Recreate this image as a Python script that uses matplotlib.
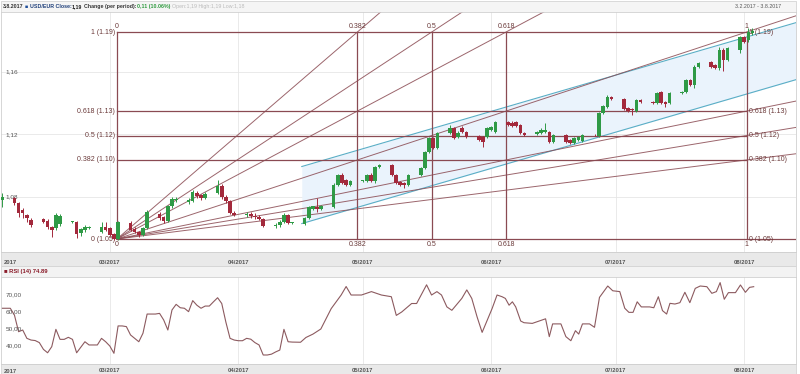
import matplotlib.pyplot as plt
import numpy as np
import pandas as pd
from matplotlib.patches import Rectangle

plt.rcParams['font.family'] = ['Liberation Sans', 'DejaVu Sans']

# ---- data: USD/EUR daily candles, 3.2.2017 - 3.8.2017 (weekdays) ----
start = pd.Timestamp('2017-02-03')
dates = pd.bdate_range('2017-02-03', '2017-08-03')

opens = [1.0781,
         1.0794, 1.0762, 1.0717, 1.0685, 1.0653,
         1.0659, 1.0646, 1.0608, 1.0602, 1.0627,
         1.0640, 1.0640, 1.0570, 1.0589, 1.0602,
         1.0576, 1.0608, 1.0602, 1.0563, 1.0531,
         1.0634, 1.0595, 1.0576, 1.0557, 1.0602,
         1.0691, 1.0672, 1.0646, 1.0742, 1.0781,
         1.0768, 1.0774, 1.0826, 1.0813, 1.0794,
         1.0826, 1.0870, 1.0800, 1.0774, 1.0698,
         1.0685, 1.0691, 1.0678, 1.0672, 1.0659,
         1.0614, 1.0621, 1.0640, 1.0685, 1.0634,
         1.0627, 1.0666, 1.0723, 1.0736, 1.0723,
         1.0736, 1.0877, 1.0941, 1.0909, 1.0877,
         1.0902, 1.0902, 1.0941, 1.0902, 1.0992,
         1.1005, 1.0941, 1.0896, 1.0890, 1.0877,
         1.0941, 1.0986, 1.1088, 1.1178, 1.1114,
         1.1210, 1.1242, 1.1184, 1.1242, 1.1216,
         1.1190, 1.1184, 1.1184, 1.1229, 1.1216,
         1.1280, 1.1274, 1.1280, 1.1261, 1.1210,
         1.1203, 1.1210, 1.1216, 1.1216, 1.1152,
         1.1197, 1.1165, 1.1146, 1.1165, 1.1158,
         1.1197, 1.1190, 1.1338, 1.1376, 1.1440,
         1.1427, 1.1370, 1.1363, 1.1350, 1.1421,
         1.1408, 1.1402, 1.1472, 1.1408, 1.1402,
         1.1466, 1.1472, 1.1549, 1.1517, 1.1632,
         1.1664, 1.1645, 1.1626, 1.1741, 1.1677,
         1.1741, 1.1824, 1.1805, 1.1850]
highs = [1.0826,
         1.0800, 1.0768, 1.0730, 1.0691, 1.0666,
         1.0666, 1.0659, 1.0614, 1.0698, 1.0691,
         1.0646, 1.0646, 1.0602, 1.0621, 1.0614,
         1.0640, 1.0640, 1.0608, 1.0570, 1.0646,
         1.0646, 1.0608, 1.0582, 1.0608, 1.0717,
         1.0704, 1.0678, 1.0749, 1.0800, 1.0800,
         1.0794, 1.0845, 1.0838, 1.0819, 1.0832,
         1.0909, 1.0883, 1.0813, 1.0781, 1.0711,
         1.0704, 1.0704, 1.0698, 1.0685, 1.0666,
         1.0634, 1.0653, 1.0698, 1.0691, 1.0640,
         1.0672, 1.0742, 1.0742, 1.0794, 1.0749,
         1.0890, 1.0947, 1.0954, 1.0915, 1.0909,
         1.0909, 1.0947, 1.0954, 1.0998, 1.1011,
         1.1011, 1.0947, 1.0902, 1.0896, 1.0947,
         1.0992, 1.1094, 1.1184, 1.1184, 1.1216,
         1.1261, 1.1248, 1.1222, 1.1254, 1.1222,
         1.1197, 1.1190, 1.1248, 1.1254, 1.1286,
         1.1286, 1.1286, 1.1286, 1.1267, 1.1216,
         1.1222, 1.1242, 1.1274, 1.1222, 1.1203,
         1.1203, 1.1171, 1.1184, 1.1190, 1.1203,
         1.1203, 1.1344, 1.1389, 1.1453, 1.1446,
         1.1434, 1.1376, 1.1370, 1.1427, 1.1427,
         1.1414, 1.1472, 1.1478, 1.1414, 1.1472,
         1.1478, 1.1555, 1.1555, 1.1645, 1.1664,
         1.1670, 1.1651, 1.1760, 1.1754, 1.1760,
         1.1831, 1.1831, 1.1882, 1.1882]
lows = [1.0736,
        1.0749, 1.0672, 1.0666, 1.0640, 1.0608,
        1.0634, 1.0595, 1.0544, 1.0589, 1.0614,
        1.0634, 1.0538, 1.0550, 1.0576, 1.0595,
        1.0570, 1.0582, 1.0550, 1.0525, 1.0525,
        1.0582, 1.0570, 1.0544, 1.0550, 1.0595,
        1.0653, 1.0634, 1.0640, 1.0730, 1.0768,
        1.0755, 1.0768, 1.0794, 1.0781, 1.0787,
        1.0819, 1.0787, 1.0762, 1.0691, 1.0678,
        1.0672, 1.0666, 1.0659, 1.0653, 1.0608,
        1.0602, 1.0608, 1.0634, 1.0627, 1.0627,
        1.0621, 1.0659, 1.0717, 1.0704, 1.0717,
        1.0730, 1.0870, 1.0883, 1.0870, 1.0870,
        1.0896, 1.0896, 1.0896, 1.0890, 1.0986,
        1.0934, 1.0883, 1.0870, 1.0858, 1.0870,
        1.0934, 1.0979, 1.1082, 1.1107, 1.1107,
        1.1203, 1.1171, 1.1178, 1.1210, 1.1178,
        1.1158, 1.1120, 1.1178, 1.1222, 1.1210,
        1.1254, 1.1248, 1.1248, 1.1203, 1.1190,
        1.1197, 1.1203, 1.1210, 1.1146, 1.1146,
        1.1146, 1.1139, 1.1139, 1.1158, 1.1152,
        1.1190, 1.1184, 1.1331, 1.1370, 1.1421,
        1.1357, 1.1344, 1.1325, 1.1344, 1.1402,
        1.1395, 1.1395, 1.1395, 1.1376, 1.1395,
        1.1459, 1.1466, 1.1510, 1.1498, 1.1626,
        1.1626, 1.1619, 1.1613, 1.1606, 1.1670,
        1.1722, 1.1786, 1.1792, 1.1837]
closes = [1.0800,
          1.0762, 1.0698, 1.0698, 1.0666, 1.0621,
          1.0640, 1.0608, 1.0589, 1.0685, 1.0678,
          1.0640, 1.0563, 1.0595, 1.0608, 1.0608,
          1.0608, 1.0589, 1.0557, 1.0531, 1.0640,
          1.0589, 1.0576, 1.0557, 1.0602, 1.0704,
          1.0666, 1.0646, 1.0742, 1.0787, 1.0787,
          1.0781, 1.0832, 1.0806, 1.0794, 1.0819,
          1.0870, 1.0800, 1.0774, 1.0698, 1.0685,
          1.0691, 1.0678, 1.0672, 1.0659, 1.0614,
          1.0621, 1.0640, 1.0685, 1.0634, 1.0634,
          1.0666, 1.0736, 1.0742, 1.0723, 1.0742,
          1.0877, 1.0941, 1.0890, 1.0877, 1.0902,
          1.0902, 1.0941, 1.0902, 1.0992, 1.1005,
          1.0941, 1.0890, 1.0877, 1.0877, 1.0941,
          1.0986, 1.1088, 1.1178, 1.1114, 1.1210,
          1.1242, 1.1178, 1.1210, 1.1216, 1.1184,
          1.1165, 1.1152, 1.1242, 1.1248, 1.1280,
          1.1261, 1.1254, 1.1254, 1.1210, 1.1197,
          1.1216, 1.1229, 1.1229, 1.1152, 1.1197,
          1.1152, 1.1146, 1.1178, 1.1184, 1.1197,
          1.1194, 1.1338, 1.1382, 1.1440, 1.1427,
          1.1363, 1.1350, 1.1357, 1.1421, 1.1408,
          1.1402, 1.1466, 1.1402, 1.1398, 1.1466,
          1.1472, 1.1549, 1.1517, 1.1632, 1.1658,
          1.1632, 1.1626, 1.1741, 1.1677, 1.1754,
          1.1824, 1.1792, 1.1856, 1.1862]

# RSI(14): (days since 3.2.2017, value)
rsi_day = [0, 2, 3, 4, 5, 6, 7, 8, 9, 10, 11, 12, 13, 14, 15, 16, 17, 18,
           20, 21, 22, 23, 24, 25, 26, 27, 28, 29, 30, 31, 33, 34, 35, 36,
           37, 38, 39, 40, 41, 42, 43, 44, 45, 46, 47, 48, 49, 50, 51, 52,
           53, 54, 55, 56, 57, 58, 59, 60, 61, 62, 63, 64, 65, 66, 67, 68,
           69, 70, 72,
           73.3, 75, 76.9, 79.4, 81.8, 83, 84.2, 86.7, 89.1, 91.5, 93.9,
           95.1, 96.4, 98.8, 100, 102.4, 103.6, 104.9, 106, 107.3, 108.5,
           110.9, 112.1, 113.3, 114.6, 115.8, 117, 118.2, 119.4,
           120.6, 121.4, 122.3, 123.1, 123.9, 125.1, 125.9, 127.9, 129.1,
           130.7, 131.1, 132, 132.8, 134.8, 136, 137.2, 138.3, 139.1, 140,
           141.7, 142.9, 144.1, 146.1, 147.3, 149, 150.2, 151.2, 152.2,
           153.2, 154.2, 156.2, 157.2, 158.3, 159.3, 160.3, 161.1, 162.3,
           163.5, 164.7, 165.9, 167.2, 168.4, 170, 171.2, 172.3, 173.2,
           174.2, 175.2, 176.9, 178.1, 179.3, 180.3, 181.3]
rsi_val = [62.2, 62.2, 58.2, 48.4, 49.4, 44.5, 43.5, 43.2, 42, 38, 36, 39.6,
           49.8, 43.9, 43.9, 45.1, 43.9, 36, 42.5, 40.6, 40.6, 40.6, 44.5,
           42.5, 40, 35.7, 51.8, 51.8, 51.4, 46.5, 42.5, 47.5, 58.8, 58.8,
           58.8, 59.2, 55.3, 49.4, 61.2, 64.5, 62.5, 62.2, 60.2, 66.7, 64,
           62.2, 63.5, 63.5, 66, 68.4, 65, 54, 44.5, 43.5, 43.1, 43.1, 44.5,
           44, 42, 40.6, 34.7, 34.7, 35.2, 36.5, 37.6, 49.8, 42.5, 42.3, 42.2,
           45, 47, 50, 62, 70, 75, 70, 70, 72, 70, 69,
           58, 60, 65, 65, 76, 70, 72, 70, 63, 61,
           68, 73, 68, 57, 48, 55, 62, 70,
           69, 68, 64, 66, 63, 54.7, 53.7, 53.3, 54.3,
           55.7, 56, 45.5, 53, 53, 45.5, 43.1, 49, 47, 53,
           53, 51, 68.6, 75.3, 72.5, 72, 62.2, 59.8, 59.8,
           66, 63, 63, 62.5, 69, 60.8, 58.8, 65.1, 64.7,
           65.5, 71.6, 65.5, 73.9, 75.3, 74.9, 71, 72, 77.3,
           67.5, 71.4, 71.4, 75.9, 71.6, 74.5, 74.9]

# Fibonacci fan / time zones / levels (anchors)
fib_x0, fib_x1 = 27.7, 179.6          # days since 3.2.2017
fib_p0, fib_p1 = 1.0531, 1.1856
fib_ratios = [0, 0.382, 0.5, 0.618, 1]
fib_price_labels = ['0 (1.05)', '0.382 (1.10)', '0.5 (1.12)', '0.618 (1.13)', '1 (1.19)']
fib_time_labels = ['0', '0.382', '0.5', '0.618', '1']

# trend channel (two parallel lines)
chan_x = [72.3, 191.5]
chan_upper = [1.0995, 1.1916]
chan_lower = [1.0630, 1.1551]

month_ticks = ['2017-03-01', '2017-04-01', '2017-05-01', '2017-06-01', '2017-07-01', '2017-08-01']
month_labels = ['03/2017', '04/2017', '05/2017', '06/2017', '07/2017', '08/2017']
price_ticks = [1.08, 1.12, 1.16]
rsi_ticks = [40, 50, 60, 70]

# ---- figure ----
W, H = 800, 374
fig = plt.figure(figsize=(W / 100, H / 100), dpi=100)
fig.patch.set_facecolor('white')


def box(x, y, w, h):
    # pixel box (top-left origin) -> figure fraction rect
    return [x / W, 1 - (y + h) / H, w / W, h / H]


def band(x, y, w, h, color):
    r = box(x, y, w, h)
    fig.add_artist(Rectangle((r[0], r[1]), r[2], r[3], transform=fig.transFigure,
                             facecolor=color, edgecolor='#d4d4d4', lw=0.6, zorder=0))


band(1, 1, 795, 11, '#f5f5f5')     # header
band(1, 252, 795, 14, '#e9e9e9')   # main x axis
band(1, 266, 795, 11, '#f3f3f3')   # rsi header
band(1, 364, 795, 10, '#e9e9e9')   # rsi x axis

xmin, xmax = -0.24, 191.5
x = (dates - start).days.values.astype(float)
o = np.array(opens); h = np.array(highs); l = np.array(lows); c = np.array(closes)

green, red = '#2f9a46', '#a3293c'
fib_col = '#8a4a52'
fs = 4.2

ax = fig.add_axes(box(1, 12, 795, 240))
ax.set_xlim(xmin, xmax)
ax.set_ylim(1.0448, 1.1984)

month_x = [(pd.Timestamp(m) - start).days for m in month_ticks]
ax.set_xticks(month_x)
ax.set_xticklabels(month_labels, fontsize=fs, color='#555555', fontweight='bold')
ax.tick_params(axis='x', length=0, pad=6)
ax.set_yticks(price_ticks)
ax.set_yticklabels([])
ax.tick_params(axis='y', length=0)
ax.grid(True, color='#e6e6e6', lw=0.6)
ax.set_axisbelow(True)
for s in ax.spines.values():
    s.set_color('#d0d0d0'); s.set_linewidth(0.6)
for t in price_ticks:
    ax.text(0.006, t, f'{t:.2f}'.replace('.', ','), transform=ax.get_yaxis_transform(),
            fontsize=4.6, color='#555555', va='center', ha='left')
ax.text(0.004, -0.045, '2017', transform=ax.transAxes, fontsize=fs, color='#555555',
        fontweight='bold', va='center', ha='left')

# channel
ax.fill_between(chan_x, chan_lower, chan_upper, color='#eaf3fc', lw=0, zorder=1)
ax.plot(chan_x, chan_upper, color='#5aaec6', lw=0.8, zorder=2)
ax.plot(chan_x, chan_lower, color='#5aaec6', lw=0.8, zorder=2)

# fib fans
for r in fib_ratios[1:]:
    pr = fib_p0 + r * (fib_p1 - fib_p0)
    slope = (pr - fib_p0) / (fib_x1 - fib_x0)
    ax.plot([fib_x0, xmax], [fib_p0, fib_p0 + slope * (xmax - fib_x0)],
            color=fib_col, lw=0.7, alpha=0.85, zorder=2)
for r in fib_ratios[1:4]:
    xr = fib_x0 + r * (fib_x1 - fib_x0)
    slope = (fib_p1 - fib_p0) / (xr - fib_x0)
    ax.plot([fib_x0, xmax], [fib_p0, fib_p0 + slope * (xmax - fib_x0)],
            color=fib_col, lw=0.7, alpha=0.85, zorder=2)

# fib levels + time lines
lab_fs = 5.0
for r, lab in zip(fib_ratios, fib_price_labels):
    pr = fib_p0 + r * (fib_p1 - fib_p0)
    xe = xmax if r == 0 else fib_x1
    ax.plot([fib_x0, xe], [pr, pr], color=fib_col, lw=0.9, zorder=2)
    ax.text(fib_x0 - 0.5, pr, lab, fontsize=lab_fs, color='#6b3a3a', ha='right', va='center')
    ax.text(fib_x1 + 0.5, pr, lab, fontsize=lab_fs, color='#6b3a3a', ha='left', va='center')
for r, lab in zip(fib_ratios, fib_time_labels):
    xr = fib_x0 + r * (fib_x1 - fib_x0)
    ax.plot([xr, xr], [fib_p0, fib_p1], color=fib_col, lw=0.9, zorder=2)
    ax.text(xr, fib_p1 + 0.0015, lab, fontsize=lab_fs, color='#6b3a3a', ha='center', va='bottom')
    ax.text(xr, fib_p0 - 0.0012, lab, fontsize=lab_fs, color='#6b3a3a', ha='center', va='top')

# candles
up = c >= o
col = np.where(up, green, red)
ax.vlines(x, l, h, colors=col, lw=0.7, zorder=3)
body = np.maximum(np.abs(c - o), 0.0004)
ax.bar(x, body, bottom=np.minimum(o, c), width=0.85, color=col, lw=0, zorder=4)

# header texts, chained left to right
header = [('3.8.2017', 'bold', '#333333'),
          ('■', 'normal', '#1f4e9a'),
          ('USD/EUR Close:', 'bold', '#1f3f7a'),
          ('1,19', 'bold', '#222222'),
          ('Change (per period):', 'bold', '#333333'),
          ('0,11 (10.06%)', 'bold', '#2e9a3e'),
          ('Open:1,19 High:1,19 Low:1,18', 'normal', '#bbbbbb')]
gaps = [0, 1.2, 1.0, 0.3, 1.2, 0.3, 1.2]
hfs = 3.8
prev = fig.text(3 / W, 1 - 6.5 / H, header[0][0], fontsize=hfs, fontweight=header[0][1],
                color=header[0][2], va='center')
for (txt, wt, cl), g in zip(header[1:], gaps[1:]):
    prev = fig.add_artist(plt.Annotation(txt, xy=(1, 0.5), xycoords=prev, xytext=(g, 0),
                                         textcoords='offset points', fontsize=hfs,
                                         fontweight=wt, color=cl, va='center'))
fig.text(781 / W, 1 - 6.5 / H, '3.2.2017 - 3.8.2017', fontsize=hfs, color='#555555',
         va='center', ha='right')

# ---- RSI panel ----
rax = fig.add_axes(box(1, 277, 795, 87))
rax.set_xlim(xmin, xmax)
rax.set_ylim(29.4, 80.6)
rax.plot(rsi_day, rsi_val, color='#8c5a5f', lw=0.8)
rax.set_xticks(month_x)
rax.set_xticklabels(month_labels, fontsize=fs, color='#555555', fontweight='bold')
rax.tick_params(axis='x', length=0, pad=3)
rax.set_yticks(rsi_ticks)
rax.set_yticklabels([])
rax.tick_params(axis='y', length=0)
rax.grid(True, axis='x', color='#e6e6e6', lw=0.6)
for s in rax.spines.values():
    s.set_color('#d0d0d0'); s.set_linewidth(0.6)
for t in rsi_ticks:
    rax.text(0.006, t, f'{t:.2f}'.replace('.', ','), transform=rax.get_yaxis_transform(),
             fontsize=4.6, color='#555555', va='center', ha='left')
rax.text(0.004, -0.06, '2017', transform=rax.transAxes, fontsize=fs, color='#555555',
         fontweight='bold', va='top', ha='left')
fig.text(4 / W, 1 - 271.5 / H, '■ RSI (14) 74.89', fontsize=fs, fontweight='bold',
         color='#8b1c2a', va='center')

fig.savefig('out.png', dpi=100)
